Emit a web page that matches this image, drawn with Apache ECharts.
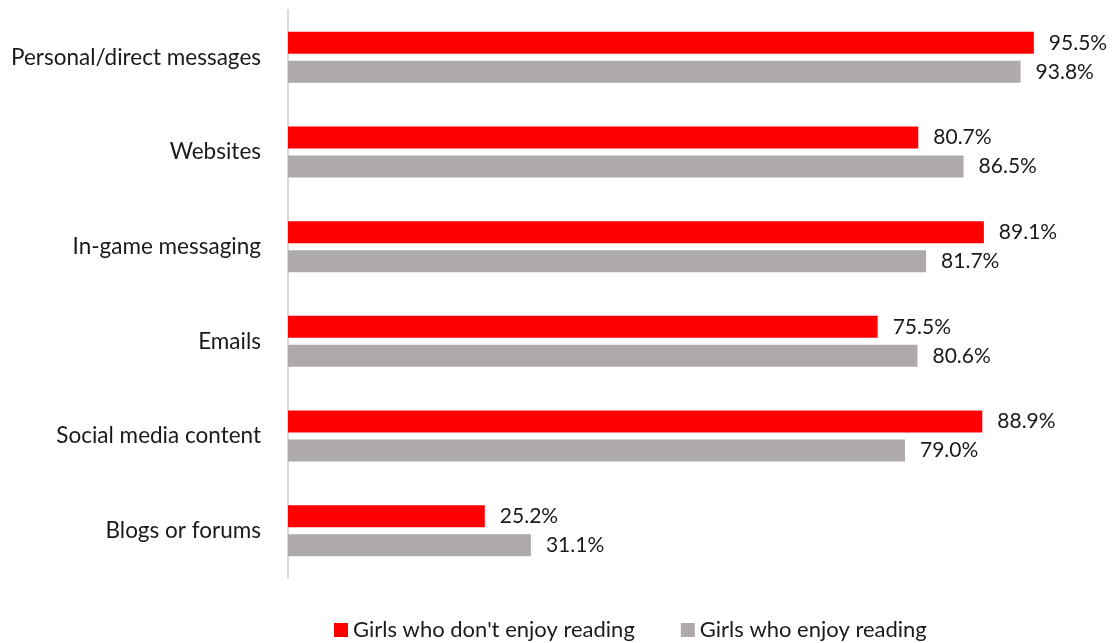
<!DOCTYPE html>
<html><head><meta charset="utf-8">
<script src="https://cdn.jsdelivr.net/npm/echarts@6/dist/echarts.min.js"></script>
<style>html,body{margin:0;padding:0;background:#fff}#c{width:1116px;height:643px}</style>
</head><body><div id="c"></div>
<script>
const categories = ["Personal/direct messages", "Websites", "In-game messaging", "Emails", "Social media content", "Blogs or forums"];
const seriesNames = ["Girls who don't enjoy reading", "Girls who enjoy reading"];
const dontEnjoy = [95.5, 80.7, 89.1, 75.5, 88.9, 25.2];
const enjoy = [93.8, 86.5, 81.7, 80.6, 79.0, 31.1];

const FONT = "Lato";
const chart = echarts.init(document.getElementById('c'));
const lbl = {show: true, position: 'right', distance: 15, color: '#1a1a1a', fontFamily: FONT, fontSize: 21,
  formatter: p => p.value.toFixed(1) + '%'};
chart.setOption({
  animation: false,
  textStyle: {fontFamily: FONT},
  grid: {left: 288, right: 47, top: 10, bottom: 65},
  legend: {top: 614, left: 329, itemWidth: 14, itemHeight: 14, itemGap: 46, icon: 'rect',
    textStyle: {fontFamily: FONT, fontSize: 22, color: '#1a1a1a'}, data: seriesNames},
  xAxis: {type: 'value', min: 0, max: 100, show: false},
  yAxis: {type: 'category', data: categories, inverse: true,
    axisLine: {lineStyle: {color: '#d9d9d9', width: 2}}, axisTick: {show: false},
    axisLabel: {color: '#1a1a1a', fontFamily: FONT, fontSize: 22.5, margin: 27}},
  series: [
    {name: seriesNames[0], type: 'bar', data: dontEnjoy, barWidth: 22, barGap: '32%', itemStyle: {color: '#ff0000'}, label: lbl},
    {name: seriesNames[1], type: 'bar', data: enjoy, barWidth: 22, itemStyle: {color: '#aeaaaa'}, label: lbl}
  ]
});
</script></body></html>
